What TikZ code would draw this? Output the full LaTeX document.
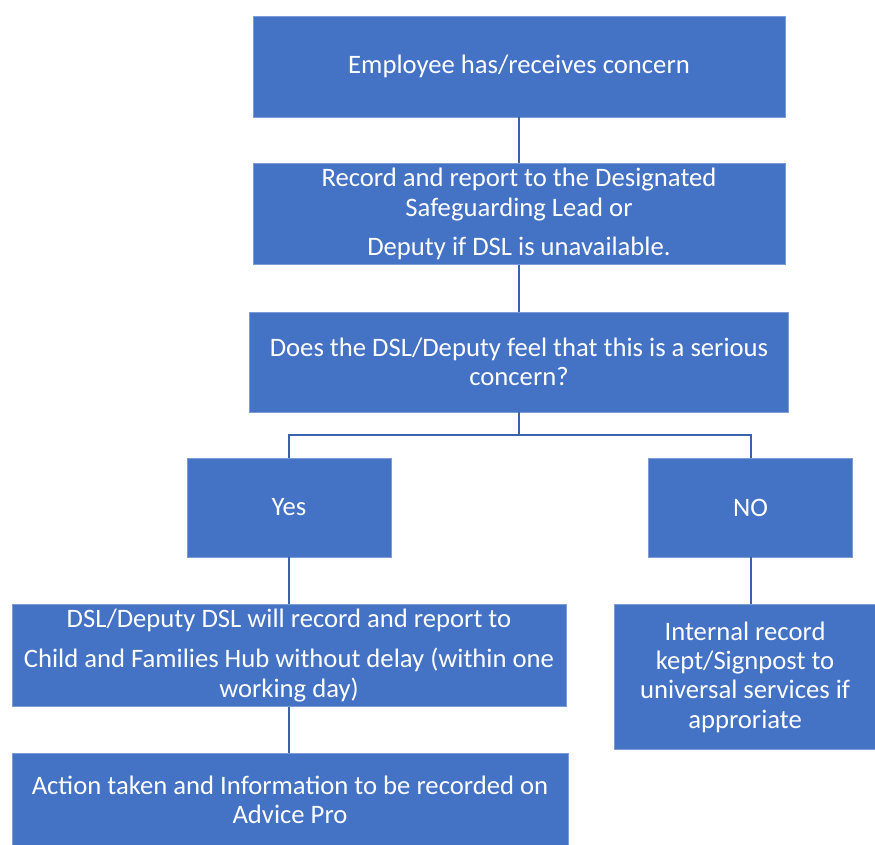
\documentclass[tikz,border=0pt]{standalone}
\usepackage{fontspec}
\setmainfont{Carlito}
\usetikzlibrary{positioning}
\definecolor{boxblue}{HTML}{4472C4}
\definecolor{lineblue}{HTML}{3A62AE}
\tikzset{block/.style={fill=boxblue,draw=boxblue!70!white,thin,text=white,align=center,inner sep=0pt,
                       font=\fontsize{20}{22}\selectfont},
         line/.style={draw=lineblue,line width=1.5pt}
}
\begin{document}
\begin{tikzpicture}[x=0.75pt,y=-0.75pt]
\useasboundingbox (0,0) rectangle (875,845);

\node[block,minimum width=399pt,minimum height=75.75pt] (concern) at (519,66.5) {Employee has/receives concern};
\node[block,minimum width=399pt,minimum height=75.75pt,below=34.5pt of concern] (report) {Record and report to the Designated\\Safeguarding Lead or\\[7.5pt]Deputy if DSL is unavailable.};
\node[block,minimum width=404.25pt,minimum height=75pt,below=35.25pt of report] (decide) {Does the DSL/Deputy feel that this is a serious\\concern?};
\node[block,minimum width=153pt,minimum height=74.25pt] (yes) at (289,507.5) {Yes};
\node[block,minimum width=153pt,minimum height=74.25pt,right=192.75pt of yes] (no) {NO};
\node[block,minimum width=415.5pt,minimum height=76.5pt,below=35.25pt of yes] (hub) {DSL/Deputy DSL will record and report to\\[8pt]Child and Families Hub without delay (within one\\working day)};
\node[block,minimum width=195.75pt,minimum height=108.75pt,below=35.25pt of no,xshift=-4.1pt] (internal) {Internal record\\kept/Signpost to\\universal services if\\approriate};
\node[block,minimum width=417pt,minimum height=69.75pt,below=34.5pt of hub,xshift=0.75pt] (action) {Action taken and Information to be recorded on\\Advice Pro};
\coordinate[below=17pt of decide.south] (fork);

\draw[line] (concern)--(report);
\draw[line] (report)--(decide);
\draw[line] (decide)--(fork);
\draw[line] (fork)-|(yes);
\draw[line] (fork)-|(no);
\draw[line] (yes)--(hub);
\draw[line] (no)--(no|-internal.north);
\draw[line] (hub)--(hub|-action.north);

\end{tikzpicture}
\end{document}
